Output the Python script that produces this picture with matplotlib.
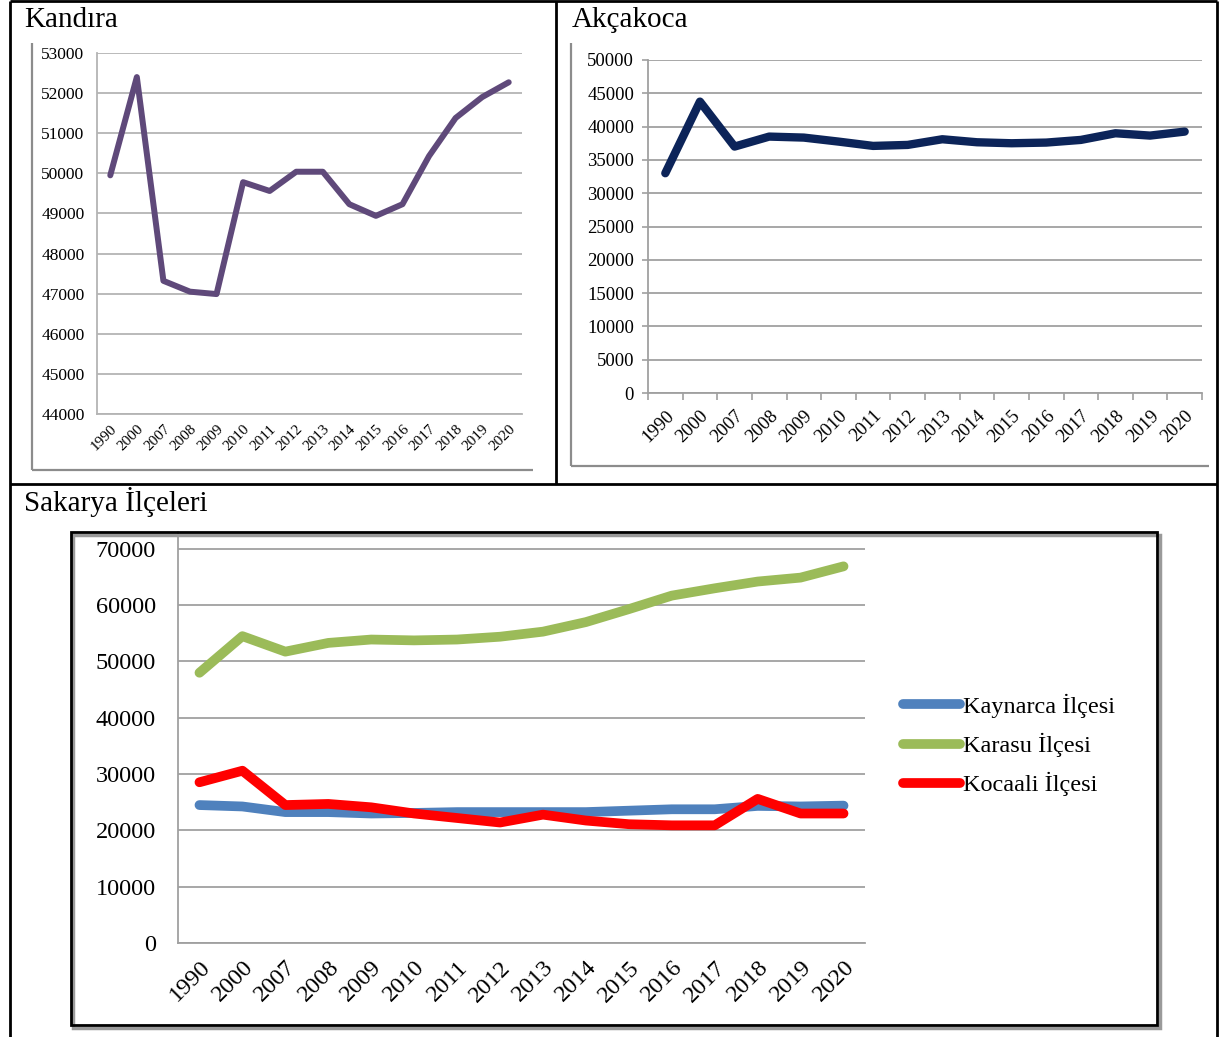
import matplotlib
matplotlib.use("Agg")
import matplotlib.pyplot as plt
from matplotlib.lines import Line2D
from matplotlib.patches import Rectangle

years = ["1990", "2000", "2007", "2008", "2009", "2010", "2011", "2012",
         "2013", "2014", "2015", "2016", "2017", "2018", "2019", "2020"]

kandira = [49950, 52400, 47320, 47050, 46990, 49780, 49560, 50040,
           50040, 49230, 48940, 49230, 50430, 51380, 51900, 52270]

akcakoca = [33000, 43750, 37000, 38500, 38350, 37750, 37100, 37250,
            38100, 37650, 37500, 37600, 38000, 39000, 38650, 39250]

kaynarca = [24500, 24250, 23250, 23250, 23000, 23100, 23250, 23250,
            23250, 23250, 23500, 23750, 23750, 24350, 24250, 24400]
karasu = [48000, 54500, 51750, 53300, 53900, 53750, 53900, 54400,
          55300, 57000, 59300, 61700, 63000, 64200, 64900, 66900]
kocaali = [28550, 30600, 24500, 24700, 24100, 23000, 22200, 21400,
           22800, 21750, 21100, 20900, 20900, 25600, 23000, 23000]

titles = ["Kandıra", "Akçakoca", "Sakarya İlçeleri"]
legend_labels = ["Kaynarca İlçesi", "Karasu İlçesi", "Kocaali İlçesi"]

plt.rcParams['font.family'] = ['Liberation Serif', 'DejaVu Serif']

W, H = 1219, 1037
fig = plt.figure(figsize=(W / 100, H / 100), dpi=100)


def box(l, t, r, b):
    return [l / W, 1 - b / H, (r - l) / W, (b - t) / H]


def pline(xs, ys, color="black", lw=2.0, z=5):
    fig.add_artist(Line2D([x / W for x in xs], [1 - y / H for y in ys],
                          transform=fig.transFigure, color=color, lw=lw,
                          zorder=z, solid_capstyle="butt"))


# table borders
pline([10, 1217], [1, 1], lw=2)
pline([10, 10], [1, 1037], lw=2)
pline([1217, 1217], [1, 1037], lw=2)
pline([10, 1217], [484, 484], lw=2)
pline([556, 556], [1, 484], lw=2)

# chart-area frames (gray, left + bottom)
gray = "#8c8c8c"
pline([32, 32], [43, 470], color=gray, lw=1.6)
pline([32, 533], [470, 470], color=gray, lw=1.6)
pline([571, 571], [43, 466], color=gray, lw=1.6)
pline([571, 1209], [466, 466], color=gray, lw=1.6)

# Sakarya frame with shadow
fig.add_artist(Rectangle((73 / W, 1 - 1028 / H), (1087 / W), (493 / H),
                         transform=fig.transFigure, facecolor="none",
                         edgecolor="#9a9a9a", lw=2.5, zorder=3))
fig.add_artist(Rectangle((71 / W, 1 - 1025 / H), (1086 / W), (493 / H),
                         transform=fig.transFigure, facecolor="none",
                         edgecolor="black", lw=2, zorder=4))

# titles
fig.text(24 / W, 1 - 27 / H, titles[0], fontsize=21, va="baseline", ha="left")
fig.text(572 / W, 1 - 27 / H, titles[1], fontsize=21, va="baseline", ha="left")
fig.text(24 / W, 1 - 511 / H, titles[2], fontsize=21, va="baseline", ha="left")

x = list(range(len(years)))


def style(ax, ylo, yhi, step, ytop, gridc, fs_y, fs_x, ypad, xpad, ticks_out):
    ax.set_xlim(-0.5, len(years) - 0.5)
    ax.set_ylim(ylo, ytop)
    ax.set_yticks(list(range(ylo, yhi + 1, step)))
    ax.set_yticklabels([str(v) for v in range(ylo, yhi + 1, step)], fontsize=fs_y)
    ax.set_xticks(x)
    ax.set_xticklabels(years, fontsize=fs_x, rotation=45, ha="right",
                       rotation_mode="anchor")
    ax.grid(axis="y", color=gridc, lw=1.3)
    ax.set_axisbelow(True)
    for s in ["top", "right"]:
        ax.spines[s].set_visible(False)
    ax.spines["left"].set_color(gridc)
    ax.spines["left"].set_linewidth(1.3)
    ax.spines["bottom"].set_color(gridc)
    ax.spines["bottom"].set_linewidth(1.3)
    ax.tick_params(axis="x", length=0, pad=xpad)
    if ticks_out:
        ax.tick_params(axis="y", length=4, color=gridc, width=1.2, pad=ypad)
        ax.set_xticks([i - 0.5 for i in range(len(years) + 1)], minor=True)
        ax.tick_params(axis="x", which="minor", length=5, color=gridc, width=1.2)
    else:
        ax.tick_params(axis="y", length=0, pad=ypad)
    ax.patch.set_alpha(0)


# Kandira
ax1 = fig.add_axes(box(97, 53, 522, 414))
style(ax1, 44000, 53000, 1000, 53000, "#b4b4b4", 12.5, 11, 9, 6, False)
ax1.plot(x, kandira, color="#5f497a", lw=4.3, solid_joinstyle="round",
         solid_capstyle="round", clip_on=False)

# Akcakoca
ax2 = fig.add_axes(box(648, 60, 1202, 393))
style(ax2, 0, 50000, 5000, 50000, "#a0a0a0", 13.5, 13.5, 6, 10, True)
ax2.plot(x, akcakoca, color="#0c2459", lw=6, solid_joinstyle="round",
         solid_capstyle="round", clip_on=False)

# Sakarya
ax3 = fig.add_axes(box(178, 532, 865, 943))
style(ax3, 0, 70000, 10000, 73000, "#a0a0a0", 17.5, 17.5, 16, 10, False)
series = [kaynarca, karasu, kocaali]
colors = ["#4f81bd", "#9bbb59", "#ff0000"]
handles = []
for vals, c, lab in zip(series, colors, legend_labels):
    h, = ax3.plot(x, vals, color=c, lw=7, solid_joinstyle="round",
                  solid_capstyle="round", label=lab, clip_on=False)
    handles.append(h)

fig.legend(handles=handles, labels=legend_labels, loc="center left",
           bbox_to_anchor=(903 / W, 1 - 745 / H), frameon=False, fontsize=17.5,
           handlelength=2.35, handletextpad=0.1, labelspacing=0.62,
           borderpad=0, borderaxespad=0)

fig.savefig("out.png", dpi=100)
